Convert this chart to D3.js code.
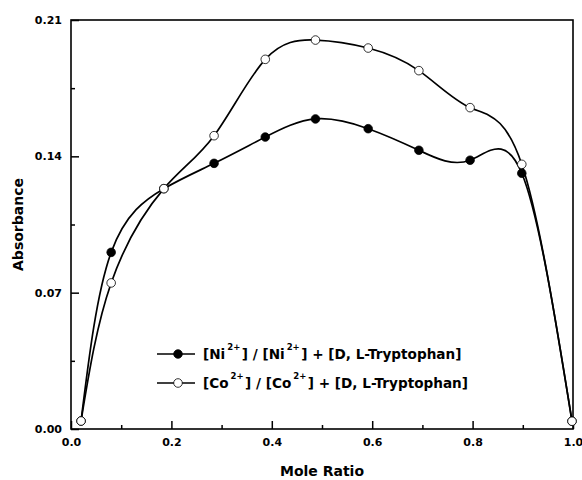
<!DOCTYPE html>
<html>
<head>
<meta charset="utf-8">
<script src="https://cdn.jsdelivr.net/npm/d3@7"></script>
<style>
  body { margin: 0; background: #fff; }
  text { font-family: "DejaVu Sans", sans-serif; font-weight: bold; fill: #000; }
</style>
</head>
<body>
<div id="chart"></div>
<script>
const moleRatio = [0.02, 0.08, 0.185, 0.285, 0.387, 0.487, 0.592, 0.693, 0.795, 0.898, 0.998];
const niAbs = [0.0041, 0.0907, 0.1234, 0.1364, 0.1499, 0.1592, 0.1542, 0.1431, 0.1380, 0.1313, 0.0040];
const coAbs = [0.0041, 0.0750, 0.1234, 0.1506, 0.1898, 0.1997, 0.1956, 0.1840, 0.1650, 0.1359, 0.0040];
const yTicks = [0.00, 0.07, 0.14, 0.21];
const xTicks = [0.0, 0.2, 0.4, 0.6, 0.8, 1.0];

const margin = { top: 20, right: 9, bottom: 51, left: 71 };
const width = 582 - margin.left - margin.right;
const height = 480 - margin.top - margin.bottom;

const svg = d3.select("#chart")
  .append("svg")
  .attr("width", 582)
  .attr("height", 480)
  .append("g")
  .attr("transform", `translate(${margin.left},${margin.top})`);

const x = d3.scaleLinear().domain([0, 1]).range([0, width]);
const y = d3.scaleLinear().domain([0, 0.21]).range([height, 0]);

// frame
svg.append("rect")
  .attr("width", width).attr("height", height)
  .attr("fill", "none").attr("stroke", "#000").attr("stroke-width", 1.6);

// x axis: major + minor ticks pointing inside
const xMin = svg.append("g").attr("transform", `translate(0,${height})`)
  .call(d3.axisBottom(x).tickValues(d3.range(0.1, 1, 0.2)).tickSize(-4).tickFormat(""));
xMin.select(".domain").remove();
const xMaj = svg.append("g").attr("transform", `translate(0,${height})`)
  .call(d3.axisBottom(x).tickValues(xTicks).tickSize(-8).tickPadding(9).tickFormat(d3.format(".1f")));
xMaj.select(".domain").remove();

// y axis
const yMin = svg.append("g")
  .call(d3.axisLeft(y).tickValues([0.035, 0.105, 0.175]).tickSize(-4).tickFormat(""));
yMin.select(".domain").remove();
const yMaj = svg.append("g")
  .call(d3.axisLeft(y).tickValues(yTicks).tickSize(-8).tickPadding(9).tickFormat(d3.format(".2f")));
yMaj.select(".domain").remove();

svg.selectAll(".tick line").attr("stroke", "#000").attr("stroke-width", 1.5);
svg.selectAll(".tick text").style("font-size", "11px").style("font-weight", "bold")
  .style("font-family", "'DejaVu Sans', sans-serif");

// axis titles
svg.append("text")
  .attr("x", width / 2).attr("y", height + 47)
  .attr("text-anchor", "middle").style("font-size", "14px")
  .text("Mole Ratio");
svg.append("text")
  .attr("transform", `translate(${-48},${height / 2}) rotate(-90)`)
  .attr("text-anchor", "middle").style("font-size", "14px")
  .text("Absorbance");

const series = [
  { name: "Ni", values: niAbs, fill: "#000" },
  { name: "Co", values: coAbs, fill: "#fff" }
];

const line = d3.line()
  .x(d => x(d[0]))
  .y(d => y(d[1]))
  .curve(d3.curveNatural);

series.forEach(s => {
  const pts = moleRatio.map((m, i) => [m, s.values[i]]);
  svg.append("path")
    .datum(pts)
    .attr("d", line)
    .attr("fill", "none")
    .attr("stroke", "#000")
    .attr("stroke-width", 1.7);
  svg.selectAll(".pt-" + s.name)
    .data(pts)
    .enter().append("circle")
    .attr("class", "pt-" + s.name)
    .attr("cx", d => x(d[0]))
    .attr("cy", d => y(d[1]))
    .attr("r", 4.3)
    .attr("fill", s.fill)
    .attr("stroke", "#000")
    .attr("stroke-width", 0.8);
});

// legend
const legendRows = [
  { ion: "Ni", fill: "#000" },
  { ion: "Co", fill: "#fff" }
];
const legend = svg.append("g").attr("transform", "translate(86,334)");
legendRows.forEach((r, i) => {
  const g = legend.append("g").attr("transform", `translate(0,${i * 29})`);
  g.append("line").attr("x1", 0).attr("x2", 38).attr("y1", 0).attr("y2", 0)
    .attr("stroke", "#000").attr("stroke-width", 1.7);
  g.append("circle").attr("cx", 21).attr("cy", 0).attr("r", 4.3)
    .attr("fill", r.fill).attr("stroke", "#000").attr("stroke-width", 0.8);
  const t = g.append("text").attr("x", 46).attr("y", 5).style("font-size", "13.6px");
  t.append("tspan").text("[" + r.ion);
  t.append("tspan").attr("dy", -9).attr("dx", 2).style("font-size", "8.5px").text("2+");
  t.append("tspan").attr("dy", 9).attr("dx", 1.5).text("] / [" + r.ion);
  t.append("tspan").attr("dy", -9).attr("dx", 2).style("font-size", "8.5px").text("2+");
  t.append("tspan").attr("dy", 9).attr("dx", 1.5).text("] + [D, L-Tryptophan]");
});
</script>
</body>
</html>
